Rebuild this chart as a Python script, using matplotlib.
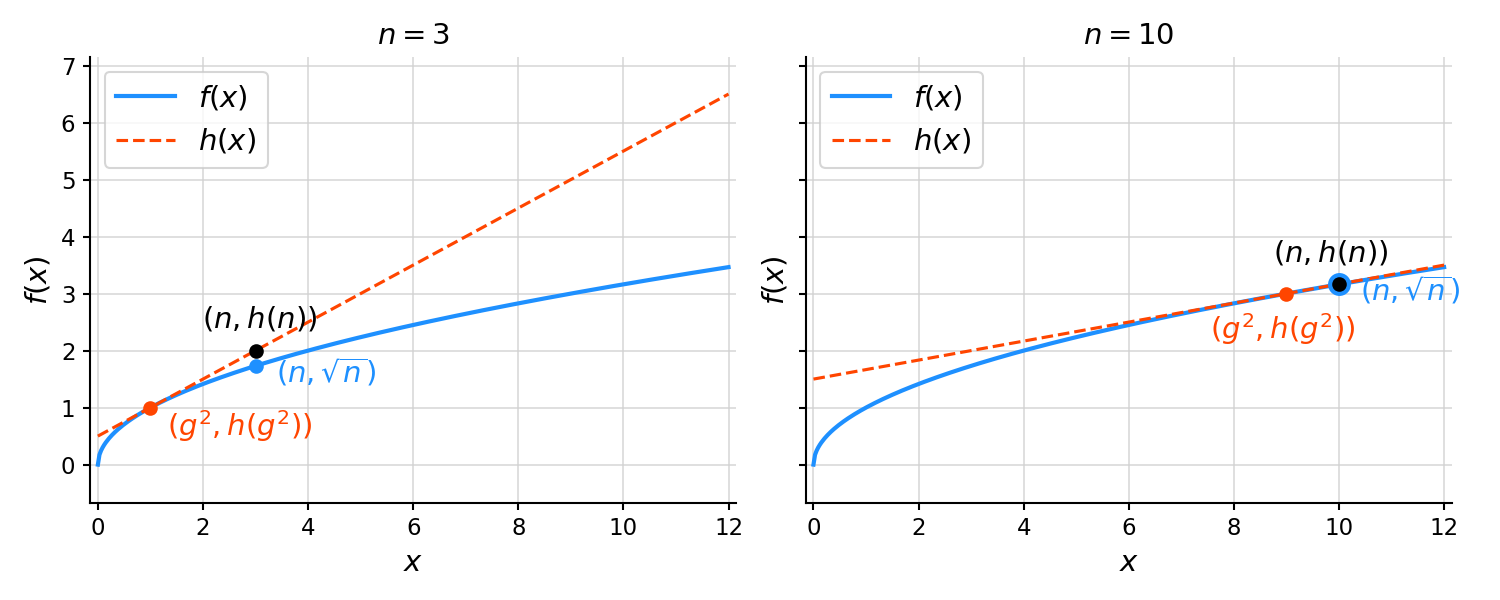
"""sqrt(x) and its tangent line h(x) at x = g^2, for two values of n."""
import numpy as np
import matplotlib.pyplot as plt

N_VALUES = [3, 10]
G_VALUES = [1, 3]
X_MAX = 12
BLUE = "#1E90FF"
ORANGE = "#FF4500"


def f(x):
    return np.sqrt(x)


def h(x, g):
    # tangent of sqrt at x = g^2
    return g / 2 + x / (2 * g)


def plot():
    fig, axes = plt.subplots(1, 2, figsize=(10, 4), dpi=150, sharey=True)
    fig.subplots_adjust(left=0.06, right=0.968, bottom=0.162, top=0.905, wspace=0.107)
    xs = np.linspace(0, X_MAX, 400)

    for i, (ax, n, g) in enumerate(zip(axes, N_VALUES, G_VALUES)):
        ax.plot(xs, f(xs), color=BLUE, lw=2, label="$f(x)$", zorder=3)
        ax.plot(xs, h(xs, g), color=ORANGE, lw=1.5, ls="--", label="$h(x)$", zorder=3)

        big = 10 if i == 1 else 6
        ax.plot(n, f(n), "o", color=BLUE, ms=big, zorder=5)
        ax.plot(n, h(n, g), "o", color="black", ms=6, zorder=6)
        ax.plot(g ** 2, h(g ** 2, g), "o", color=ORANGE, ms=6, zorder=5)

        ax.annotate("$(n, h(n))$", (n, h(n, g)), xytext=(2 if i == 0 else -4, 8),
                    textcoords="offset points", ha="center", va="bottom", fontsize=14)
        ax.annotate(r"$(n, \sqrt{n})$", (n, f(n)), xytext=(10, -3),
                    textcoords="offset points", ha="left", va="center",
                    fontsize=14, color=BLUE)
        if i == 0:
            ax.annotate("$(g^2, h(g^2))$", (g ** 2, h(g ** 2, g)), xytext=(8, -9),
                        textcoords="offset points", ha="left", va="center",
                        fontsize=14, color=ORANGE)
        else:
            ax.annotate("$(g^2, h(g^2))$", (g ** 2, h(g ** 2, g)), xytext=(-2, -17),
                        textcoords="offset points", ha="center", va="center",
                        fontsize=14, color=ORANGE)

        ax.set_title(f"$n = {n}$", fontsize=14)
        ax.set_xlabel("$x$", fontsize=14)
        ax.set_ylabel("$f(x)$", fontsize=14)
        ax.set_xlim(-0.15, 12.15)
        ax.set_ylim(-0.67, 7.15)
        ax.set_xticks(range(0, 13, 2))
        ax.set_yticks(range(0, 8))
        ax.tick_params(labelsize=11, width=1)
        ax.grid(True, color="#d0d0d0", lw=0.8, alpha=0.8)
        ax.spines[["top", "right"]].set_visible(False)
        ax.spines[["left", "bottom"]].set_linewidth(1)
        ax.legend(loc="upper left", fontsize=14)

    fig.savefig("out.png", dpi=150)


if __name__ == "__main__":
    plot()
